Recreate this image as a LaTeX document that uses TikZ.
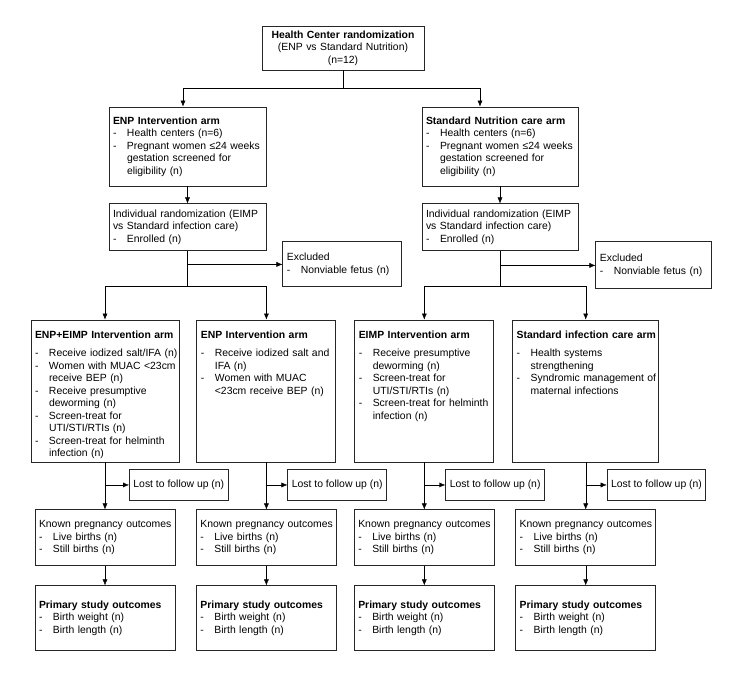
\documentclass[tikz,border=0pt]{standalone}
\usepackage{fontspec}
\setmainfont{Liberation Sans}
\usetikzlibrary{arrows.meta,positioning}

% box contents: a dash column and a text column
\newcommand{\blist}[1]{\begin{tabular}[t]{@{}p{14pt}@{}l@{}}#1\end{tabular}}
\newcommand{\hd}[1]{\multicolumn{2}{@{}l@{}}{#1}}

\begin{document}
\begin{tikzpicture}[->,>={Latex[length=6pt,width=5pt]},
    every node/.style={font=\fontsize{10.4}{12.5}\selectfont},
    box/.style={draw=black!85,line width=0.9pt,inner sep=4pt,align=left},
    armbox/.style={box,text width=#1,text height=14pt,text depth=120pt},
    lostbox/.style={box,align=center,minimum width=98pt,minimum height=31pt},
    outbox/.style={box,text width=132pt,minimum height=#1}]
  \useasboundingbox (0,0) rectangle (750pt,-675pt);

  \node [box,align=center,text width=154pt,minimum height=44pt] (top) at (343pt,-48pt)
    {\textbf{Health Center randomization}\\(ENP vs Standard Nutrition)\\(n=12)};
  \node [box,text width=149pt,minimum height=79pt] (enpArm) at (187.5pt,-146.5pt)
    {\blist{\hd{\textbf{ENP Intervention arm}}\\ - & Health centers (n=6)\\
     - & Pregnant women ≤24 weeks\\ & gestation screened for\\ & eligibility (n)}};
  \node [box,text width=148pt,minimum height=79pt] (stdArm) at (500pt,-146.5pt)
    {\blist{\hd{\textbf{Standard Nutrition care arm}}\\ - & Health centers (n=6)\\
     - & Pregnant women ≤24 weeks\\ & gestation screened for\\ & eligibility (n)}};

  \node [box,text width=149pt,minimum height=47pt,below=17pt of enpArm] (randL)
    {\blist{\hd{Individual randomization (EIMP}\\ \hd{vs Standard infection care)}\\ - & Enrolled (n)}};
  \node [box,text width=148pt,minimum height=47pt,below=17pt of stdArm] (randR)
    {\blist{\hd{Individual randomization (EIMP}\\ \hd{vs Standard infection care)}\\ - & Enrolled (n)}};
  \node [box,text width=111pt,minimum height=45pt,right=16pt of randL,yshift=-37pt] (exclL)
    {\blist{\hd{Excluded}\\ - & Nonviable fetus (n)}};
  \node [box,text width=108pt,minimum height=47pt,right=17pt of randR,yshift=-38pt] (exclR)
    {\blist{\hd{Excluded}\\ - & Nonviable fetus (n)}};

  \node [armbox=140pt] (b1) at (105pt,-391pt)
    {\blist{\hd{\textbf{ENP+EIMP Intervention arm}}\\[6pt]
     - & Receive iodized salt/IFA (n)\\ - & Women with MUAC <23cm\\ & receive BEP (n)\\
     - & Receive presumptive\\ & deworming (n)\\ - & Screen-treat for\\ & UTI/STI/RTIs (n)\\
     - & Screen-treat for helminth\\ & infection (n)}};
  \node [armbox=131pt,right=17pt of b1] (b2)
    {\blist{\hd{\textbf{ENP Intervention arm}}\\[6pt]
     - & Receive iodized salt and\\ & IFA (n)\\ - & Women with MUAC\\ & <23cm receive BEP (n)}};
  \node [armbox=131pt,right=18pt of b2] (b3)
    {\blist{\hd{\textbf{EIMP Intervention arm}}\\[6pt]
     - & Receive presumptive\\ & deworming (n)\\ - & Screen-treat for\\ & UTI/STI/RTIs (n)\\
     - & Screen-treat for helminth\\ & infection (n)}};
  \node [armbox=138pt,right=18pt of b3] (b4)
    {\blist{\hd{\textbf{Standard infection care arm}}\\[6pt]
     - & Health systems\\ & strengthening\\ - & Syndromic management of\\ & maternal infections}};

  % split points
  \coordinate [below=18pt of top] (splitT);
  \coordinate [below=35pt of randL] (splitL);
  \coordinate [below=35pt of randR] (splitR);

  \draw [-] (top) -- (splitT);
  \draw (splitT) -| ([xshift=-4.5pt]enpArm.north);
  \draw (splitT) -| ([xshift=-20pt]stdArm.north);
  \path (enpArm) edge (randL)
        (stdArm) edge (randR);
  \draw [-] (randL) -- (splitL);
  \draw [-] (randR) -- (splitR);
  \draw (randL.south |- exclL.west) -- (exclL.west);
  \draw (randR.south |- exclR.west) -- (exclR.west);
  \draw (splitL) -| (b1);
  \draw (splitL) -| (b2);
  \draw (splitR) -| (b3);
  \draw (splitR) -| (b4);

  % follow up and outcomes for each arm
  \foreach \i/\d in {1/24,2/21,3/21,4/21} {
    \coordinate [below=22.5pt of b\i] (lost\i);
    \node [lostbox,right=\d pt of lost\i] (lostBox\i) {Lost to follow up (n)};
    \node [outbox=56pt,below=47pt of b\i] (known\i)
      {\blist{\hd{Known pregnancy outcomes}\\ - & Live births (n)\\ - & Still births (n)}};
    \node [outbox=65pt,below=19pt of known\i] (prim\i)
      {\blist{\hd{\textbf{Primary study outcomes}}\\ - & Birth weight (n)\\ - & Birth length (n)}};
    \path (lost\i) edge (lostBox\i)
          (b\i) edge (known\i)
          (known\i) edge (prim\i);
  }
\end{tikzpicture}
\end{document}
